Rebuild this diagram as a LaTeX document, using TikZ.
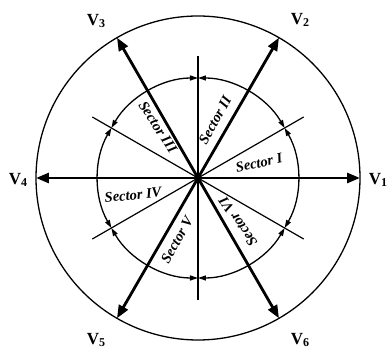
\documentclass[tikz,border=0pt]{standalone}
\usepackage{fontspec}
\setmainfont{Liberation Serif}
\usepackage{tikz}
\usetikzlibrary{arrows.meta}

\newcommand{\vname}[1]{V\raisebox{-0.35ex}{\fontsize{12}{12}\selectfont #1}}

\begin{document}
\begin{tikzpicture}[
    x=1pt, y=1pt,
    vec/.style={line width=2.8pt, -{Triangle[length=13pt,width=10pt]}},
    bound/.style={line width=1.2pt},
    ring/.style={line width=1.3pt},
    sweep/.style={line width=1.3pt, {Triangle[length=8pt,width=5pt]}-{Triangle[length=8pt,width=5pt]}},
    vlabel/.style={font=\fontsize{17}{17}\selectfont\bfseries},
    slabel/.style={font=\fontsize{14.5}{14.5}\selectfont\bfseries\itshape, inner sep=0pt}
]
\useasboundingbox (-198,-174) rectangle (193,178);

\coordinate (o) at (0,0);
\draw [ring] (o) circle (162);

% sector boundaries and switching arcs
\foreach \a in {30,90,...,330} {
    \coordinate (b\a) at (\a:122);
    \draw [bound] (o) -- (b\a);
    \draw [sweep] (\a:100) arc[start angle=\a, end angle=\a+60, radius=100];
}

% voltage vectors
\foreach \k in {1,...,6} {
    \coordinate (t\k) at ({(\k-1)*60}:162);
    \draw [vec] (o) -- (t\k);
}

\node [vlabel] (v1) at (180,-2) {\vname{1}};
\node [vlabel] (v2) at (102,158) {\vname{2}};
\node [vlabel] (v3) at (-102,157) {\vname{3}};
\node [vlabel] (v4) at (-180,-2) {\vname{4}};
\node [vlabel] (v5) at (-102,-162) {\vname{5}};
\node [vlabel] (v6) at (102,-162) {\vname{6}};

\node [slabel, rotate=12] (s1) at (61,15) {Sector I};
\node [slabel, rotate=61] (s2) at (17,58) {Sector II};
\node [slabel, rotate=-57] (s3) at (-40,51) {Sector III};
\node [slabel, rotate=6] (s4) at (-65,-17) {Sector IV};
\node [slabel, rotate=61] (s5) at (-21,-62) {Sector V};
\node [slabel, rotate=124] (s6) at (40,-44) {Sector VI};

\end{tikzpicture}
\end{document}
